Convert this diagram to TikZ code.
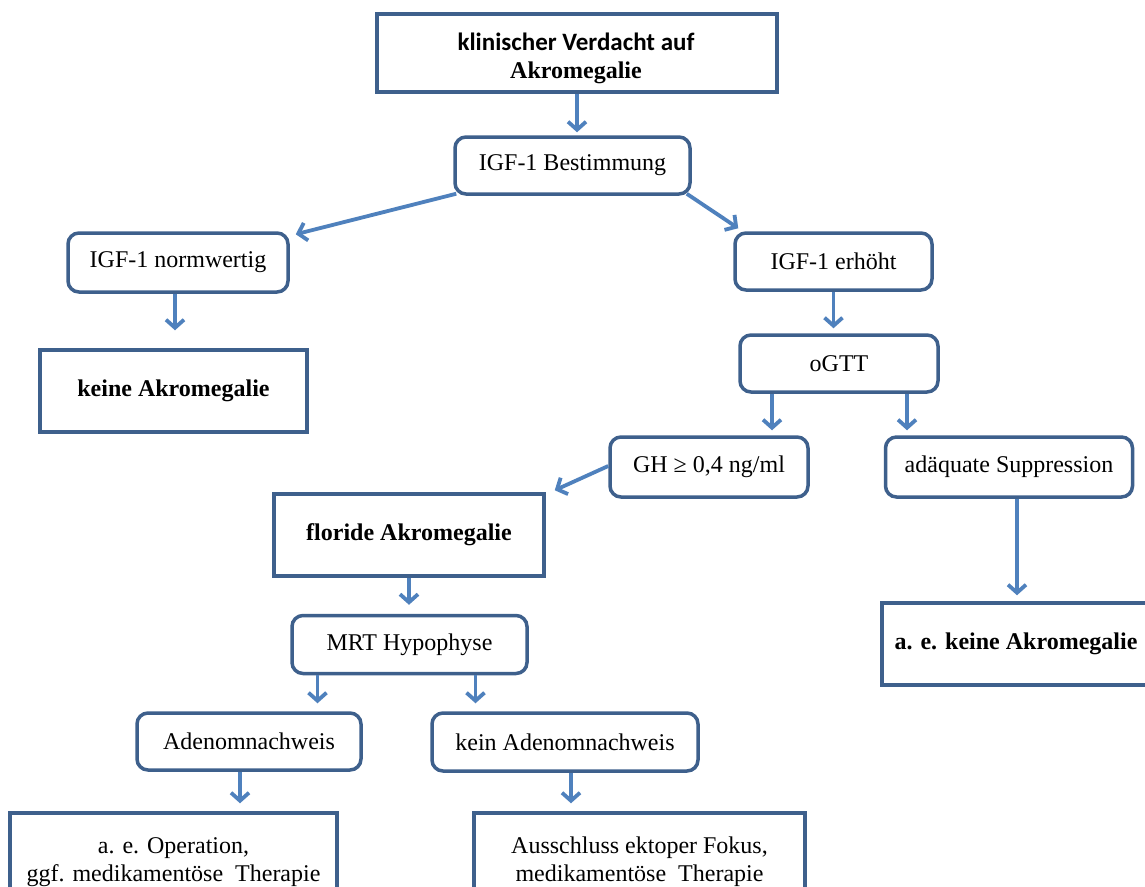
\documentclass[tikz,border=0pt]{standalone}
\usepackage{fontspec}
\setmainfont{Liberation Serif}
\newfontfamily\calfont{Carlito}
\usetikzlibrary{arrows.meta}
\definecolor{boxblue}{RGB}{62,96,140}
\definecolor{arrblue}{RGB}{79,129,189}
\tikzset{
  base/.style={draw=boxblue, line width=3.5pt, fill=white, align=center, inner sep=0pt,
    font=\fontsize{24}{28}\selectfont},
  rbox/.style={base, rounded corners=11pt},
  sbox/.style={base, font=\fontsize{24}{28}\selectfont\bfseries},
  arr/.style={draw=arrblue, line width=3.8pt, -{Straight Barb[length=8pt,width=18pt]}, shorten >=5pt}
}
\begin{document}
\begin{tikzpicture}[x=1pt,y=-1pt]
\useasboundingbox (0,0) rectangle (1145,886);
\clip (0,0) rectangle (1145,886);
\fill[white] (0,0) rectangle (1145,886);

\node[sbox, minimum width=400, minimum height=78] (top) at (577,53) {};
\node[align=center, inner sep=0pt, font=\fontsize{24}{28}\selectfont\bfseries] (toptext) at (576,58)
  {{\calfont\fontsize{25}{28}\selectfont\bfseries klinischer Verdacht auf}\\Akromegalie};
\node[rbox, minimum width=235, minimum height=57] (igf) at (572.5,165.5) {IGF-1 Bestimmung};
\node[rbox, minimum width=220, minimum height=59] (norm) at (178,262.5) {IGF-1 normwertig};
\node[sbox, minimum width=267, minimum height=82] (keine) at (173.5,391) {keine Akromegalie};
\node[rbox, minimum width=197, minimum height=57] (erh) at (833.5,261.5) {IGF-1 erhöht};
\node[rbox, minimum width=198, minimum height=57] (ogtt) at (839,363.5) {oGTT};
\node[rbox, minimum width=198, minimum height=60] (gh) at (709,467) {GH ≥ 0,4 ng/ml};
\node[rbox, minimum width=247, minimum height=60] (adq) at (1009,467) {adäquate Suppression};
\node[sbox, minimum width=270, minimum height=82] (flor) at (409,535) {floride Akromegalie};
\node[rbox, minimum width=235, minimum height=58] (mrt) at (409.5,644.5) {MRT Hypophyse};
\node[sbox, minimum width=268, minimum height=82] (aek) at (1016,644) {a. e. keine Akromegalie};
\node[rbox, minimum width=224, minimum height=57] (aden) at (249,741.5) {Adenomnachweis};
\node[rbox, minimum width=266, minimum height=58] (kein) at (565,742) {kein Adenomnachweis};
\node[base, minimum width=327, minimum height=98] (bl) at (173.5,862)
  {a. e. Operation,\\ggf. medikamentöse\ \ Therapie};
\node[base, minimum width=331, minimum height=98] (br) at (639.5,862)
  {Ausschluss ektoper Fokus,\\medikamentöse\ \ Therapie};

% connectors
\draw[arr, shorten >=3pt] (top.south) -- (top.south |- igf.north);
\draw[arr, shorten >=0pt] ([xshift=3pt,yshift=2pt]igf.south west) -- ([xshift=6pt,yshift=-3pt]norm.north east);
\draw[arr, shorten >=0pt] ([xshift=-5pt,yshift=2pt]igf.south east) -- ([xshift=5pt,yshift=3pt]erh.north west);
\coordinate (c1) at ([xshift=-3pt]norm.south);
\draw[arr, shorten >=18pt] (c1) -- (c1 |- keine.north);
\draw[arr] (erh.south) -- (erh.south |- ogtt.north);
\coordinate (c2) at ([xshift=-67pt]ogtt.south);
\draw[arr] (c2) -- (c2 |- gh.north);
\coordinate (c3) at ([xshift=68pt]ogtt.south);
\draw[arr] (c3) -- (c3 |- adq.north);
\draw[arr, shorten >=0pt] ([yshift=1pt]gh.west) -- ([xshift=9pt,yshift=2pt]flor.north east);
\coordinate (c4) at ([xshift=8pt]adq.south);
\draw[arr, shorten >=6pt] (c4) -- (c4 |- aek.north);
\draw[arr, shorten >=9pt] (flor.south) -- (flor.south |- mrt.north);
\coordinate (c5) at ([xshift=-92pt]mrt.south);
\draw[arr, shorten >=8pt] (c5) -- (c5 |- aden.north);
\coordinate (c6) at ([xshift=66pt]mrt.south);
\draw[arr, shorten >=8pt] (c6) -- (c6 |- kein.north);
\coordinate (c7) at ([xshift=-9pt]aden.south);
\draw[arr, shorten >=8pt] (c7) -- (c7 |- bl.north);
\coordinate (c8) at ([xshift=6pt]kein.south);
\draw[arr, shorten >=8pt] (c8) -- (c8 |- br.north);
\end{tikzpicture}
\end{document}
